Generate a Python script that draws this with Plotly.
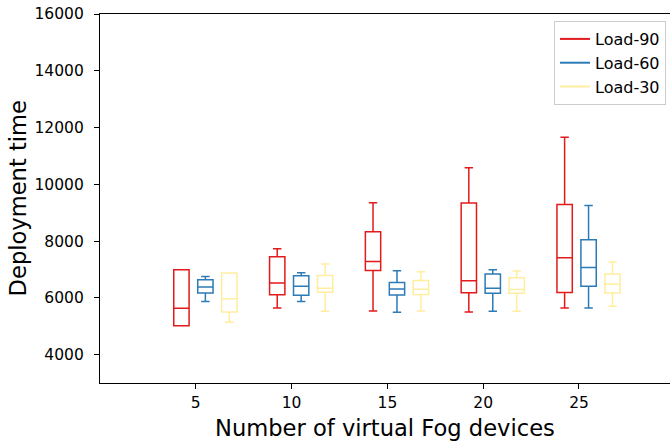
import plotly.graph_objects as go

# ---- data ----
devices = [5, 10, 15, 20, 25]
series_names = ["Load-90", "Load-60", "Load-30"]

load90_lower = [5020, 5640, 5540, 5500, 5640]
load90_q1 = [5020, 6110, 6960, 6180, 6190]
load90_median = [5630, 6520, 7280, 6600, 7410]
load90_q3 = [6990, 7450, 8330, 9340, 9285]
load90_upper = [6990, 7730, 9350, 10580, 11660]

load60_lower = [5875, 5875, 5490, 5525, 5640]
load60_q1 = [6170, 6090, 6100, 6160, 6405]
load60_median = [6380, 6405, 6310, 6335, 7070]
load60_q3 = [6640, 6780, 6545, 6840, 8045]
load60_upper = [6755, 6885, 6955, 6990, 9255]

load30_lower = [5140, 5525, 5540, 5525, 5700]
load30_q1 = [5505, 6195, 6120, 6160, 6170]
load30_median = [5970, 6335, 6300, 6290, 6475]
load30_q3 = [6875, 6790, 6615, 6710, 6840]
load30_upper = [6875, 7190, 6920, 6945, 7260]

y_ticks = [4000, 6000, 8000, 10000, 12000, 14000, 16000]
x_title = "Number of virtual Fog devices"
y_title = "Deployment time"

# ---- styling / layout ----
colors = ["#e31a1c", "#2c7bb6", "#ffeda0"]
stats = [
    (load90_lower, load90_q1, load90_median, load90_q3, load90_upper),
    (load60_lower, load60_q1, load60_median, load60_q3, load60_upper),
    (load30_lower, load30_q1, load30_median, load30_q3, load30_upper),
]
series_offsets = [-0.75, 0.5, 1.75]
box_width = 0.8

fig = go.Figure()
for name, color, off, (lo, q1, med, q3, up) in zip(series_names, colors, series_offsets, stats):
    pos = [d + off for d in devices]
    fig.add_trace(go.Box(
        x=pos, q1=q1, median=med, q3=q3, lowerfence=lo, upperfence=up,
        width=box_width, whiskerwidth=0.55,
        line=dict(color=color, width=1.5),
        fillcolor="rgba(255,255,255,0)",
        showlegend=False, name=name, hoverinfo="skip",
    ))
for name, color in zip(series_names, colors):
    fig.add_trace(go.Scatter(x=[None], y=[None], mode="lines", name=name,
                             line=dict(color=color, width=2)))

fig.update_layout(
    width=670, height=443,
    margin=dict(l=100, r=0, t=14, b=60),
    paper_bgcolor="white", plot_bgcolor="white",
    boxmode="overlay",
    font=dict(family="DejaVu Sans", color="black", size=15),
    legend=dict(x=0.993, y=0.981, xanchor="right", yanchor="top",
                bordercolor="#cccccc", borderwidth=1, bgcolor="white",
                font=dict(size=16), itemwidth=30, tracegroupgap=0),
    xaxis=dict(range=[0, 29.75], tickvals=devices, ticktext=[str(d) for d in devices],
               showgrid=False, zeroline=False, showline=True, mirror=True,
               linecolor="black", linewidth=1.2, ticks="outside", ticklen=5,
               tickcolor="black", tickfont=dict(size=15.5), ticklabelstandoff=0),
    yaxis=dict(range=[3000, 16000], tickvals=y_ticks, ticktext=[str(v) for v in y_ticks],
               showgrid=False, zeroline=False, showline=True, mirror=False,
               linecolor="black", linewidth=1.2, ticks="outside", ticklen=5,
               tickcolor="black", tickfont=dict(size=15.5), ticklabelstandoff=7),
    annotations=[
        dict(text=x_title, xref="paper", yref="paper", x=0.5, y=-0.122,
             xanchor="center", yanchor="middle", showarrow=False, font=dict(size=22.6)),
        dict(text=y_title, xref="paper", yref="paper", x=-0.144, y=0.5,
             xanchor="center", yanchor="middle", textangle=-90, showarrow=False,
             font=dict(size=22.6)),
    ],
)

fig.write_html("out.html", config={"displayModeBar": False},
               post_script="document.body.style.margin='0';document.body.style.overflow='hidden';")
